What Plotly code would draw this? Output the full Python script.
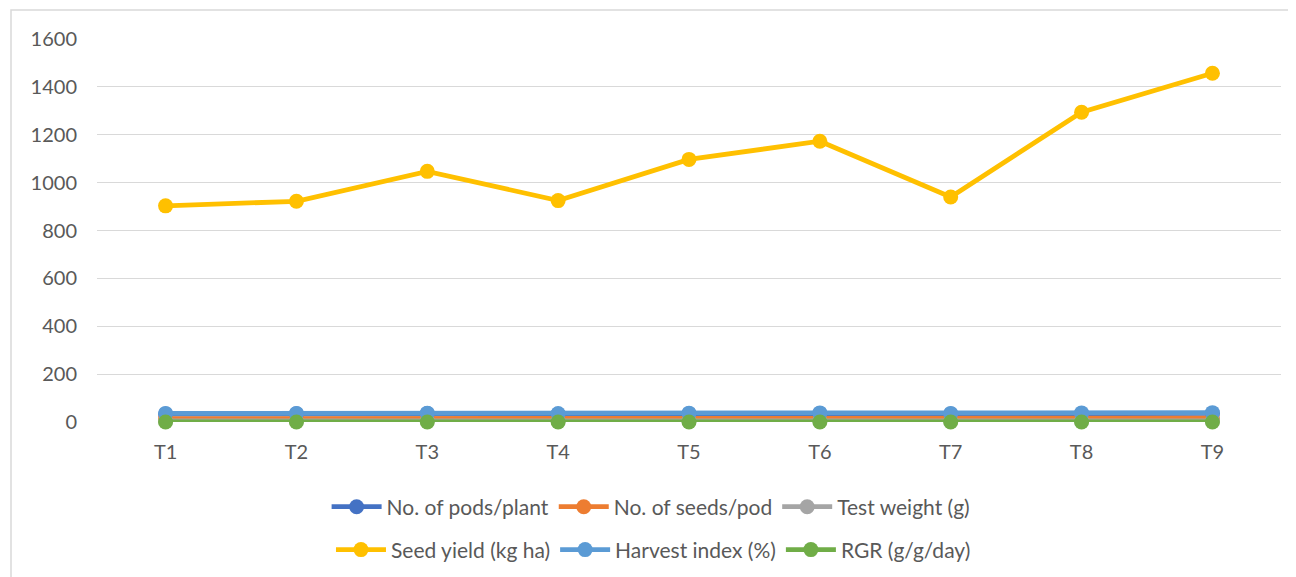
import plotly.graph_objects as go

categories = ["T1", "T2", "T3", "T4", "T5", "T6", "T7", "T8", "T9"]
pods_per_plant = [33, 34, 35, 32, 34, 35, 33, 34, 36]
seeds_per_pod = [14, 14, 15, 14, 15, 15, 14, 16, 16]
test_weight = [4.2, 4.3, 4.5, 4.2, 4.6, 4.7, 4.3, 4.8, 5.0]
seed_yield = [903, 922, 1047, 925, 1097, 1173, 940, 1294, 1457]
harvest_index = [36, 36, 37, 35, 37, 38, 36, 38, 39]
rgr = [0.05, 0.05, 0.06, 0.05, 0.06, 0.06, 0.05, 0.07, 0.07]

series = [
    ("No. of pods/plant", pods_per_plant, "#4472C4", "legend"),
    ("No. of seeds/pod", seeds_per_pod, "#ED7D31", "legend"),
    ("Test weight (g)", test_weight, "#A5A5A5", "legend"),
    ("Seed yield (kg ha)", seed_yield, "#FFC000", "legend2"),
    ("Harvest index (%)", harvest_index, "#5B9BD5", "legend2"),
    ("RGR (g/g/day)", rgr, "#70AD47", "legend2"),
]

fig = go.Figure()
for name, vals, color, lg in series:
    fig.add_trace(go.Scatter(
        x=categories, y=vals, name=name, mode="lines+markers",
        line=dict(color=color, width=4.8),
        marker=dict(color=color, size=15),
        cliponaxis=False, legend=lg,
    ))

font_family = "Lato, 'Open Sans', sans-serif"
fig.update_layout(
    width=1288, height=569,
    margin=dict(l=89, r=15, t=31, b=155, autoexpand=False),
    paper_bgcolor="white", plot_bgcolor="white",
    font=dict(family=font_family, size=20, color="#595959"),
    xaxis=dict(showgrid=False, zeroline=False, showline=False, ticks="outside",
               ticklen=12, tickcolor="rgba(0,0,0,0)",
               tickfont=dict(size=20, color="#595959")),
    yaxis=dict(range=[0, 1600], dtick=200, showgrid=True, gridcolor="#D9D9D9",
               gridwidth=1.3, zeroline=False, showline=False, ticks="outside",
               ticklen=15, tickcolor="rgba(0,0,0,0)",
               tickfont=dict(size=20, color="#595959")),
    legend=dict(orientation="h", x=0.468, xanchor="center", y=-0.1685, yanchor="top",
                font=dict(size=21, color="#595959"), itemwidth=50,
                bgcolor="rgba(0,0,0,0)", tracegroupgap=0),
    legend2=dict(orientation="h", x=0.47, xanchor="center", y=-0.2805, yanchor="top",
                 font=dict(size=21, color="#595959"), itemwidth=50,
                 bgcolor="rgba(0,0,0,0)", tracegroupgap=0),
    shapes=[dict(type="rect", xref="paper", yref="paper",
                 x0=(11 - 97) / 1184, x1=1.2, y0=-0.6, y1=1 + (39 - 10) / 383,
                 line=dict(color="#D9D9D9", width=1.5), layer="below")],
)

fig.write_html("out.html")
